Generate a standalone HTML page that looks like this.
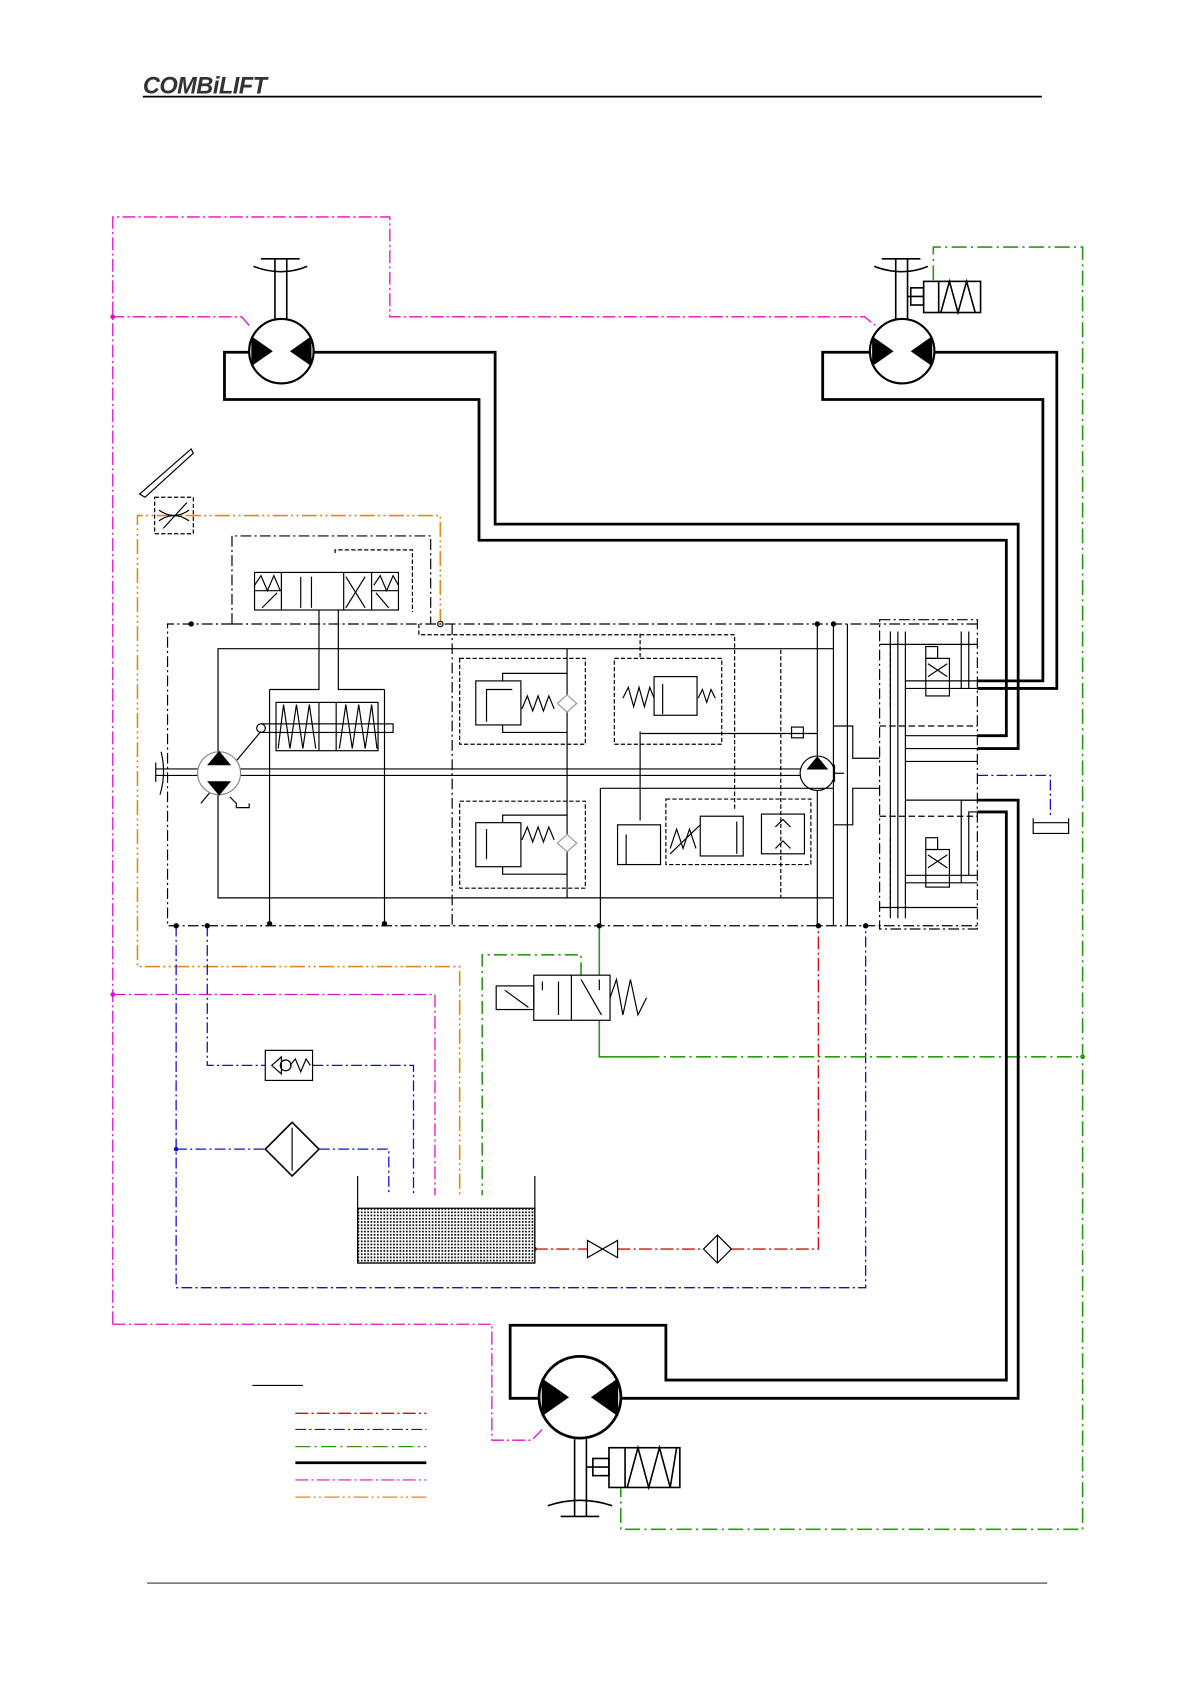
<!DOCTYPE html>
<html><head><meta charset="utf-8"><style>
html,body{margin:0;padding:0;background:#fff}
svg{display:block}
</style></head><body>
<svg width="1190" height="1684" viewBox="0 0 1108 1568" preserveAspectRatio="none" xmlns="http://www.w3.org/2000/svg" fill="none" stroke="#000" stroke-width="1.1">
<defs>
<g id="motor"><circle r="30" fill="#fff" stroke-width="2"/><polygon points="-28,-14 -8,0 -28,14" fill="#000" stroke="none"/><polygon points="28,-14 8,0 28,14" fill="#000" stroke="none"/></g>
</defs>
<!-- header -->
<text x="133" y="87" font-family="Liberation Sans, sans-serif" font-weight="bold" font-style="italic" font-size="22" fill="#333" stroke="none" letter-spacing="-0.5">COMBiLIFT</text>
<line x1="133" y1="90" x2="970" y2="90" stroke-width="1.6"/>
<line x1="137" y1="1474" x2="975" y2="1474" stroke-width="0.8"/>

<!-- magenta -->
<g stroke="#e010c0" stroke-dasharray="12 3 2 3" stroke-width="1.2">
<polyline points="232,303 225,295 105,295"/>
<polyline points="105,1233 105,202 363,202 363,295 805,295 815,303"/>
<polyline points="105,926 405,926 405,1113"/>
<polyline points="105,1233 458,1233 458,1341 495,1341 505,1331"/>
</g>
<circle cx="105" cy="295" r="2.2" fill="#e010c0" stroke="none"/>
<circle cx="105" cy="926" r="2.2" fill="#e010c0" stroke="none"/>

<!-- orange -->
<g stroke="#e08a20" stroke-dasharray="14 3 2 3 2 3" stroke-width="1.5">
<polyline points="410,581 410,480 128,480 128,900 428,900 428,1113"/>
</g>
<circle cx="410" cy="581" r="2.5" fill="#fff" stroke="#000"/>

<!-- blue -->
<g stroke="#1010d0" stroke-dasharray="10 3 2 3" stroke-width="1.2">
<polyline points="164,862 164,1199 806,1199 806,862"/>
<polyline points="164,1070 247,1070"/><polyline points="297,1070 362,1070 362,1113"/>
<polyline points="193,862 193,992 247,992"/><polyline points="291,992 385,992 385,1113"/>
<polyline points="910,722 978,722 978,762"/>
</g>
<circle cx="164" cy="1070" r="2.2" fill="#1010d0" stroke="none"/>
<!-- red -->
<g stroke="#d01010" stroke-dasharray="12 3 2 3" stroke-width="1.3">
<polyline points="498,1163 547,1163"/><polyline points="575,1163 655,1163"/>
<polyline points="681,1163 762,1163 762,862"/>
</g>
<circle cx="498" cy="1163" r="2" fill="#d01010" stroke="none"/>
<!-- green -->
<g stroke="#2a9a10" stroke-width="1.5">
<polyline points="558,862 558,908"/>
<polyline points="558,950 558,984 600,984" />
<polyline stroke-dasharray="14 4 2 4" points="600,984 1008,984"/>
<polyline stroke-dasharray="14 4 2 4" points="869,261 869,230 1008,230 1008,1424 578,1424 578,1386"/>
<polyline stroke-dasharray="12 4 2 4" points="541,908 541,889 449,889 449,1113"/>
</g>
<circle cx="1008" cy="984" r="2.2" fill="#2a9a10" stroke="none"/>
<circle cx="558" cy="862" r="2.5" fill="#000" stroke="none"/>
<circle cx="762" cy="862" r="2.5" fill="#000" stroke="none"/>
<circle cx="806" cy="862" r="2.5" fill="#000" stroke="none"/>

<!-- thick black pipes -->
<g stroke-width="2.6">
<polyline points="292,328 461,328 461,488 948,488 948,697 910,697"/>
<polyline points="232,328 209,328 209,372 446,372 446,503 937,503 937,685 910,685"/>
<polyline points="870,328 984,328 984,641 910,641"/>
<polyline points="810,328 766,328 766,372 971,372 971,634 910,634"/>
<polyline points="578,1302 948,1302 948,745 910,745"/>
<polyline points="910,756 937,756 937,1285 620,1285 620,1234 475,1234 475,1302 502,1302"/>
</g>
<!-- motors -->
<use href="#motor" x="262" y="327"/>
<use href="#motor" x="840" y="327"/>
<g transform="translate(540,1301) scale(1.27)"><use href="#motor"/></g>
<!-- shafts -->
<g stroke-width="1.5">
<line x1="256" y1="241" x2="256" y2="297"/><line x1="267" y1="241" x2="267" y2="297"/>
<line x1="243" y1="241" x2="279" y2="241"/><path d="M236,248 Q262,258 286,248"/>
<line x1="834" y1="241" x2="834" y2="297"/><line x1="845" y1="241" x2="845" y2="297"/>
<line x1="821" y1="241" x2="857" y2="241"/><path d="M814,248 Q840,258 864,248"/>
<line x1="535" y1="1340" x2="535" y2="1412"/><line x1="546" y1="1340" x2="546" y2="1412"/>
<line x1="522" y1="1412" x2="558" y2="1412"/><path d="M510,1402 Q540,1392 570,1402"/>
</g>
<!-- solenoids on motors -->
<g stroke-width="1.5">
<line x1="845" y1="276" x2="860" y2="276"/><rect x="848" y="268" width="12" height="16"/>
<rect x="860" y="262" width="53" height="29"/><line x1="874" y1="262" x2="874" y2="291"/>
<polyline points="876,291 884,262 892,291 900,262 908,291"/>
<line x1="546" y1="1366" x2="567" y2="1366"/><rect x="552" y="1358" width="15" height="16"/>
<rect x="567" y="1348" width="66" height="37"/><line x1="582" y1="1348" x2="582" y2="1385"/>
<polyline points="584,1385 594,1348 604,1385 614,1348 624,1385 630,1348"/>
</g>

<!-- throttle -->
<path d="M130,460 L178,418 L180,422 L135,463 Z" fill="#fff"/>
<rect x="144" y="463" width="36" height="34" stroke-dasharray="4 2"/>
<path d="M148,485 Q162,475 176,485 M148,475 Q162,485 176,475 M152,492 L174,468"/>

<!-- main block -->
<g stroke-dasharray="10 3 2 3">
<polyline points="216,581 156,581 156,862 910,862"/>
<line x1="216" y1="581" x2="910" y2="581"/>
<polyline points="216,581 216,499 401,499 401,581"/>
<line x1="421" y1="581" x2="421" y2="862"/>
<rect x="819" y="577" width="91" height="288"/>
</g>
<g stroke-dasharray="4 2">
<polyline points="390,581 390,591 684,591 684,755"/>
<polyline points="312,515 312,512 384,512 384,570"/>
<rect x="428" y="613" width="117" height="80"/>
<rect x="428" y="746" width="117" height="81"/>
<rect x="572" y="613" width="100" height="80"/>
<rect x="620" y="744" width="135" height="61"/>
<line x1="727" y1="605" x2="727" y2="836"/>
<line x1="596" y1="590" x2="596" y2="613"/>
<line x1="829" y1="600" x2="829" y2="660"/><line x1="829" y1="780" x2="829" y2="845"/>
</g>
<!-- inner solid circuits -->
<polyline points="203,700 203,604 776,604"/>
<polyline points="203,740 203,836 776,836"/>
<line x1="251" y1="642" x2="251" y2="860"/><line x1="358" y1="642" x2="358" y2="860"/>
<polyline points="251,642 297,642 297,540"/><polyline points="358,642 315,642 315,540"/>
<rect x="257" y="654" width="95" height="45"/>
<line x1="297" y1="654" x2="297" y2="699"/><line x1="313" y1="654" x2="313" y2="699"/>
<polyline points="259,697 264,656 270,697 276,656 282,697 288,656 294,697"/>
<polyline points="316,697 322,656 328,697 334,656 340,697 346,656 351,697"/>
<rect x="244" y="674" width="122" height="8"/>
<circle cx="243" cy="678" r="4" fill="#fff"/>
<line x1="243" y1="681" x2="187" y2="748"/>
<!-- pump left -->
<line x1="145" y1="716" x2="750" y2="716"/><line x1="145" y1="722" x2="750" y2="722"/>
<line x1="145" y1="710" x2="145" y2="728"/>
<path d="M150,700 Q155,720 149,740" />
<circle cx="204" cy="720" r="20" fill="#fff" stroke="#888"/>
<polygon points="194,712 204,700 214,712" fill="#000"/>
<polygon points="194,728 214,728 204,740" fill="#000"/>
<polyline points="214,742 220,748 220,752 232,752 232,748"/>
<!-- pump right -->
<circle cx="761" cy="720" r="16" fill="#fff"/>
<polygon points="752,716 761,705 770,716" fill="#000"/>
<line x1="777" y1="712" x2="777" y2="728"/><line x1="777" y1="720" x2="786" y2="720"/>
<line x1="761" y1="581" x2="761" y2="704"/><line x1="761" y1="736" x2="761" y2="862"/>
<line x1="776" y1="581" x2="776" y2="862"/><line x1="789" y1="581" x2="789" y2="862"/>
<polyline points="776,676 794,676 794,706 819,706"/>
<polyline points="776,768 794,768 794,734 819,734"/>
<rect x="737" y="677" width="11" height="10"/>
<line x1="528" y1="604" x2="528" y2="836"/>
<line x1="596" y1="681" x2="596" y2="764"/>
<line x1="559" y1="734" x2="776" y2="734"/><line x1="559" y1="734" x2="559" y2="862"/>
<line x1="596" y1="683" x2="761" y2="683"/>
<!-- relief valves -->
<rect x="443" y="634" width="42" height="41"/><polyline points="453,642 477,642 453,642 453,672"/>
<polyline points="486,660 491,648 496,662 501,648 506,662 511,648 516,660"/>
<path d="M519,655 L528,647 L537,655 L528,663 Z" fill="#fff" stroke="#999"/>
<polyline points="468,634 468,627 528,627"/><polyline points="468,675 468,682 528,682"/>
<rect x="443" y="766" width="42" height="41"/><line x1="453" y1="772" x2="453" y2="800"/>
<polyline points="486,782 491,770 496,784 501,770 506,784 511,770 516,782"/>
<path d="M519,785 L528,777 L537,785 L528,793 Z" fill="#fff" stroke="#999"/>
<polyline points="468,766 468,759 528,759"/><polyline points="468,807 468,814 528,814"/>
<rect x="609" y="630" width="40" height="36"/><line x1="617" y1="637" x2="617" y2="665"/>
<polyline points="580,650 585,640 590,658 595,640 600,658 605,640 609,650"/>
<polyline points="650,650 654,642 658,654 662,642 666,650"/>
<rect x="575" y="768" width="40" height="37"/><line x1="583" y1="777" x2="583" y2="805"/>
<rect x="652" y="760" width="40" height="37"/><line x1="686" y1="765" x2="686" y2="795"/>
<polyline points="624,790 630,772 636,790 642,772 648,790"/><line x1="624" y1="795" x2="652" y2="768"/>
<rect x="709" y="758" width="40" height="37"/><path d="M722,770 L729,763 L736,770" /><path d="M722,790 L729,783 L736,790"/>
<!-- directional valve on top -->
<rect x="237" y="533" width="134" height="35" fill="#fff"/>
<line x1="262" y1="533" x2="262" y2="568"/><line x1="320" y1="533" x2="320" y2="568"/><line x1="346" y1="533" x2="346" y2="568"/>
<line x1="237" y1="550" x2="262" y2="550"/><line x1="346" y1="550" x2="371" y2="550"/>
<polyline points="237,545 243,536 249,550 255,536 261,550"/>
<polyline points="348,545 354,536 360,550 366,536 371,545"/>
<line x1="280" y1="537" x2="280" y2="566"/><line x1="290" y1="537" x2="290" y2="566"/>
<line x1="322" y1="537" x2="340" y2="566"/><line x1="340" y1="537" x2="322" y2="566"/>
<line x1="244" y1="566" x2="258" y2="552"/><line x1="350" y1="552" x2="362" y2="566"/>
<!-- right block valves -->
<g>
<line x1="829" y1="588" x2="829" y2="855"/><line x1="836" y1="588" x2="836" y2="855"/><line x1="843" y1="588" x2="843" y2="855"/>
<line x1="819" y1="600" x2="910" y2="600"/><line x1="819" y1="676" x2="910" y2="676" stroke-dasharray="6 3"/>
<line x1="819" y1="760" x2="910" y2="760" stroke-dasharray="6 3"/><line x1="819" y1="845" x2="910" y2="845"/>
<rect x="862" y="613" width="22" height="35"/><rect x="862" y="602" width="11" height="11"/>
<line x1="864" y1="618" x2="882" y2="630"/><line x1="882" y1="618" x2="864" y2="630"/>
<rect x="862" y="791" width="22" height="35"/><rect x="862" y="780" width="11" height="11"/>
<line x1="864" y1="796" x2="882" y2="808"/><line x1="882" y1="796" x2="864" y2="808"/>
<line x1="843" y1="634" x2="910" y2="634"/><line x1="843" y1="641" x2="910" y2="641"/>
<line x1="843" y1="685" x2="910" y2="685"/><line x1="843" y1="697" x2="910" y2="697"/>
<line x1="843" y1="709" x2="910" y2="709"/><line x1="843" y1="745" x2="910" y2="745"/>
<line x1="843" y1="815" x2="910" y2="815"/><line x1="843" y1="822" x2="910" y2="822"/>
<line x1="895" y1="588" x2="895" y2="641"/><line x1="902" y1="588" x2="902" y2="641"/>
<polyline points="910,745 895,745 895,822"/><polyline points="910,756 902,756 902,815"/>
</g>
<!-- tank symbol right -->
<polyline points="962,762 962,776 995,776 995,762"/><line x1="962" y1="766" x2="995" y2="766"/>
<!-- green solenoid valve -->
<rect x="497" y="908" width="71" height="42" fill="#fff"/>
<line x1="532" y1="908" x2="532" y2="950"/>
<rect x="462" y="918" width="35" height="22"/><line x1="470" y1="922" x2="492" y2="938"/>
<line x1="520" y1="914" x2="520" y2="945"/><line x1="505" y1="914" x2="505" y2="922"/>
<line x1="541" y1="912" x2="560" y2="945"/><line x1="558" y1="912" x2="558" y2="922"/>
<polyline points="568,929 574,912 580,945 587,912 594,945 602,929"/>
<!-- check valve, filter -->
<rect x="247" y="978" width="44" height="28"/>
<path d="M253,992 L262,984 L262,1000 Z"/><circle cx="266" cy="992" r="5"/><polyline points="270,992 275,986 280,998 285,986 289,992"/>
<path d="M272,1045 L297,1070 L272,1095 L247,1070 Z" stroke-width="1.5"/>
<line x1="272" y1="1050" x2="272" y2="1090"/>
<!-- red line components -->
<path d="M547,1155 L575,1171 L575,1155 L547,1171 Z"/>
<path d="M668,1150 L681,1163 L668,1176 L655,1163 Z"/><line x1="668" y1="1150" x2="668" y2="1176"/>
<!-- tank -->
<rect x="333" y="1125" width="165" height="51" fill="#fff"/>
<pattern id="dots" width="3" height="3" patternUnits="userSpaceOnUse"><rect width="1" height="1" fill="#555"/></pattern>
<rect x="333" y="1125" width="165" height="51" fill="url(#dots)" stroke="none"/>
<polyline points="333,1095 333,1176 498,1176 498,1095"/>
<!-- legend -->
<line x1="235" y1="1290" x2="282" y2="1290"/>
<line x1="275" y1="1316" x2="397" y2="1316" stroke="#d01010" stroke-dasharray="12 3 2 3" stroke-width="1.3"/>
<line x1="275" y1="1331" x2="397" y2="1331" stroke="#1010d0" stroke-dasharray="10 3 2 3"/>
<line x1="275" y1="1347" x2="397" y2="1347" stroke="#2a9a10" stroke-dasharray="14 4 2 4"/>
<line x1="275" y1="1362" x2="397" y2="1362" stroke-width="2.6"/>
<line x1="275" y1="1378" x2="397" y2="1378" stroke="#e010c0" stroke-dasharray="12 3 2 3"/>
<line x1="275" y1="1394" x2="397" y2="1394" stroke="#e08a20" stroke-dasharray="14 3 2 3 2 3"/>
<!-- junction dots -->
<g fill="#000" stroke="none">
<circle cx="178" cy="581" r="2.5"/><circle cx="164" cy="862" r="2.5"/><circle cx="193" cy="862" r="2.5"/>
<circle cx="251" cy="860" r="2.5"/><circle cx="358" cy="860" r="2.5"/><circle cx="761" cy="581" r="2.5"/><circle cx="776" cy="581" r="2.5"/>
</g>
</svg>
</body></html>
